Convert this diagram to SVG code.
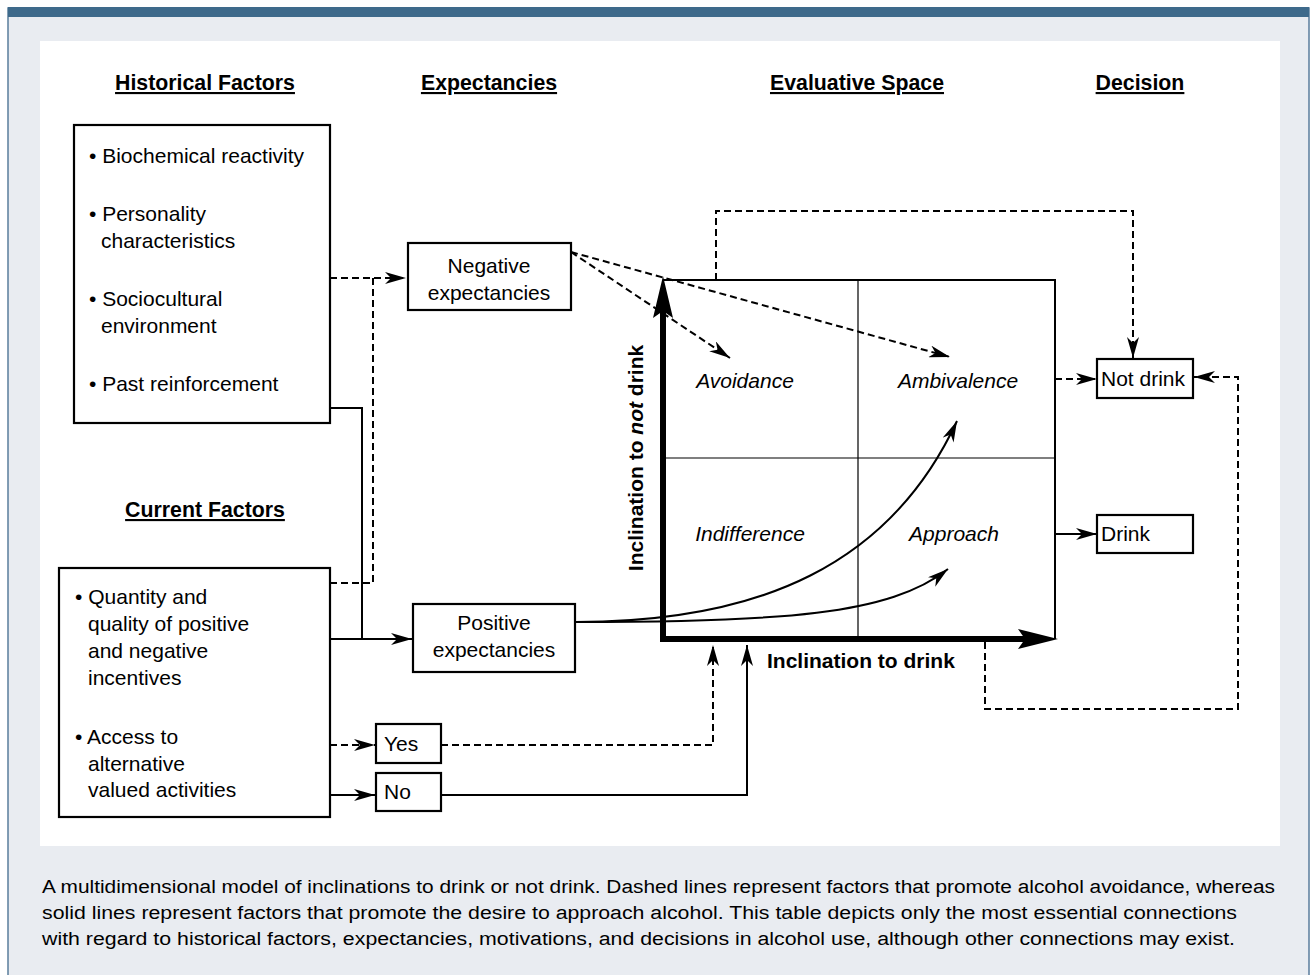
<svg xmlns="http://www.w3.org/2000/svg" width="1314" height="975" viewBox="0 0 1314 975">
<style>
text{font-family:"Liberation Sans",Arial,sans-serif;fill:#000}
.hd{font-size:21.3px;font-weight:bold;text-decoration:underline;text-anchor:middle}
.t{font-size:21px}
.c{text-anchor:middle}
.q{font-size:21px;font-style:italic;text-anchor:middle}
.ax{font-size:21px;font-weight:bold}
.cap{font-size:18px}
.box{fill:#fff;stroke:#000;stroke-width:2.2}
.ln{fill:none;stroke:#000;stroke-width:2}
.ds{fill:none;stroke:#000;stroke-width:2;stroke-dasharray:7 4}
.thin{fill:none;stroke:#000;stroke-width:1.2}
</style>
<defs>
<marker id="ah" markerUnits="userSpaceOnUse" viewBox="0 0 21 12" refX="21" refY="6" markerWidth="21" markerHeight="12" orient="auto">
<path d="M0,0 L21,6 L0,12 L6,6 z" fill="#000"/>
</marker>
</defs>
<!-- frame -->
<rect x="0" y="0" width="1314" height="975" fill="#fff"/>
<rect x="8" y="8" width="1301" height="980" fill="#e9ecf1" stroke="#5a7d9c" stroke-width="1.5"/>
<rect x="8" y="7" width="1301" height="10" fill="#3e6a8b"/>
<rect x="40" y="41" width="1240" height="805" fill="#fff"/>

<!-- headers -->
<g id="headers">
<text class="hd" x="205" y="90">Historical Factors</text>
<text class="hd" x="489" y="90">Expectancies</text>
<text class="hd" x="857" y="90">Evaluative Space</text>
<text class="hd" x="1140" y="90">Decision</text>
<text class="hd" x="205" y="517">Current Factors</text>
</g>

<!-- connectors -->
<g id="connectors">
<path class="ds" d="M330,278 H406" marker-end="url(#ah)"/>
<path class="ds" d="M330,583 H373 V278"/>
<path class="ln" d="M330,408 H362 V639"/>
<path class="ln" d="M330,639 H412" marker-end="url(#ah)"/>
<path class="ds" d="M330,745 H375" marker-end="url(#ah)"/>
<path class="ln" d="M330,795 H375" marker-end="url(#ah)"/>
<path class="ds" d="M441,745 H713 V645" marker-end="url(#ah)"/>
<path class="ln" d="M441,795 H747 V645" marker-end="url(#ah)"/>
<path class="ds" d="M571,252 L730,358" marker-end="url(#ah)"/>
<path class="ds" d="M571,252 L950,357" marker-end="url(#ah)"/>
<path class="ds" d="M716,280 V211 H1133 V358" marker-end="url(#ah)"/>
<path class="ds" d="M1055,379 H1097" marker-end="url(#ah)"/>
<path class="ln" d="M1055,534 H1097" marker-end="url(#ah)"/>
<path class="ds" d="M985,642 V709 H1238 V377 H1194" marker-end="url(#ah)"/>
<path class="ln" d="M576,622 C760,622 890,565 957,421" marker-end="url(#ah)"/>
<path class="ln" d="M576,622 C780,622 890,615 948,569" marker-end="url(#ah)"/>
</g>

<!-- historical factors -->
<g id="historical">
<rect class="box" x="74" y="125" width="256" height="298"/>
<text class="t" x="89" y="163">• Biochemical reactivity</text>
<text class="t" x="89" y="221">• Personality</text>
<text class="t" x="101" y="248">characteristics</text>
<text class="t" x="89" y="306">• Sociocultural</text>
<text class="t" x="101" y="333">environment</text>
<text class="t" x="89" y="391">• Past reinforcement</text>
</g>

<!-- current factors -->
<g id="current">
<rect class="box" x="59" y="568" width="271" height="249"/>
<text class="t" x="75" y="604">• Quantity and</text>
<text class="t" x="88" y="631">quality of positive</text>
<text class="t" x="88" y="658">and negative</text>
<text class="t" x="88" y="685">incentives</text>
<text class="t" x="75" y="744">• Access to</text>
<text class="t" x="88" y="771">alternative</text>
<text class="t" x="88" y="797">valued activities</text>
</g>

<g id="negative">
<rect class="box" x="408" y="243" width="163" height="67"/>
<text class="t c" x="489" y="273">Negative</text>
<text class="t c" x="489" y="300">expectancies</text>
</g>

<g id="positive">
<rect class="box" x="413" y="604" width="162" height="68"/>
<text class="t c" x="494" y="630">Positive</text>
<text class="t c" x="494" y="657">expectancies</text>
</g>

<g id="yes">
<rect class="box" x="376" y="724" width="65" height="39"/>
<text class="t" x="384" y="751">Yes</text>
</g>
<g id="no">
<rect class="box" x="376" y="773" width="65" height="38"/>
<text class="t" x="384" y="799">No</text>
</g>

<!-- evaluative space -->
<g id="evaluative-space">
<path class="ln" d="M663,280 H1055 V639"/>
<path class="thin" d="M858,280 V639 M663,458 H1055"/>
<path d="M663,310 V639 H1026" fill="none" stroke="#000" stroke-width="6" stroke-linejoin="miter"/>
<polygon points="663,276 653,318 663,311 673,318" fill="#000"/>
<polygon points="1058,639 1018,629 1025,639 1018,649" fill="#000"/>
<text class="q" x="745" y="388">Avoidance</text>
<text class="q" x="958" y="388">Ambivalence</text>
<text class="q" x="750" y="541">Indifference</text>
<text class="q" x="954" y="541">Approach</text>
<text class="ax" x="767" y="668">Inclination to drink</text>
<text class="ax" transform="translate(643,458) rotate(-90)" text-anchor="middle">Inclination to <tspan font-style="italic">not</tspan> drink</text>
</g>

<g id="not-drink">
<rect class="box" x="1097" y="359" width="96" height="39"/>
<text class="t" x="1101" y="386">Not drink</text>
</g>
<g id="drink">
<rect class="box" x="1097" y="515" width="96" height="38"/>
<text class="t" x="1101" y="541">Drink</text>
</g>

<g id="caption">
<text class="cap" x="42" y="893" textLength="1233" lengthAdjust="spacingAndGlyphs">A multidimensional model of inclinations to drink or not drink. Dashed lines represent factors that promote alcohol avoidance, whereas</text>
<text class="cap" x="42" y="919" textLength="1195" lengthAdjust="spacingAndGlyphs">solid lines represent factors that promote the desire to approach alcohol. This table depicts only the most essential connections</text>
<text class="cap" x="42" y="945" textLength="1193" lengthAdjust="spacingAndGlyphs">with regard to historical factors, expectancies, motivations, and decisions in alcohol use, although other connections may exist.</text>
</g>
</svg>
